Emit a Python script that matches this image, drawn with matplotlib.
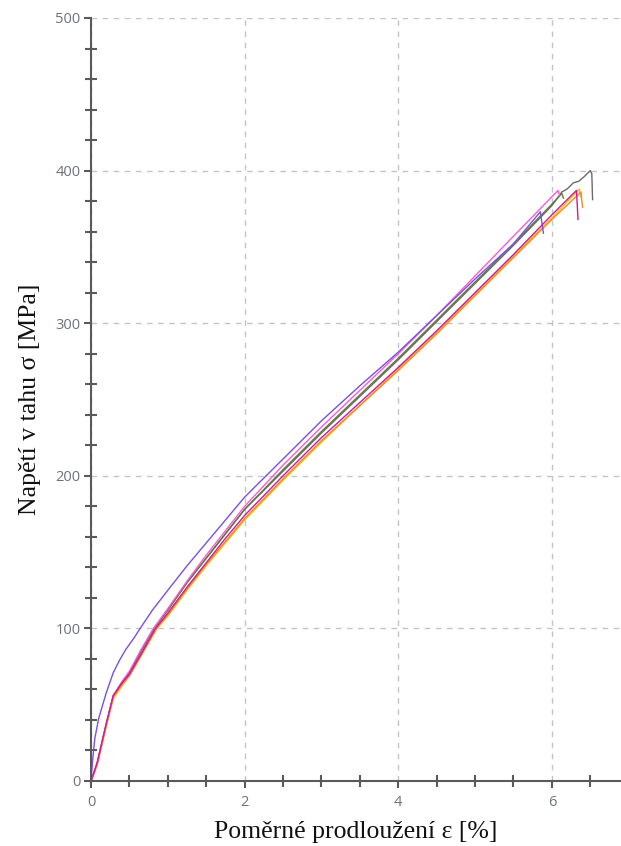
import matplotlib
matplotlib.use("Agg")
import matplotlib.pyplot as plt
from matplotlib.ticker import MultipleLocator

# Tensile test curves: strain [%] vs. stress [MPa], one list pair per specimen
purple_eps = [0, 0.02, 0.05, 0.1, 0.2, 0.29, 0.37, 0.45, 0.55, 0.64, 0.8, 1.0, 1.25, 1.5, 1.75, 2.0, 2.5, 3.0, 3.5, 4.0, 4.5, 5.0, 5.5, 5.85, 5.87, 5.89]
purple_sig = [0, 13, 28, 41, 58, 71, 79, 86, 93, 100, 112, 125, 141, 156, 171, 186, 211, 236, 259, 281, 305, 329, 352, 373, 366, 359]

pink_eps = [0, 0.08, 0.2, 0.29, 0.4, 0.5, 0.65, 0.8, 1.0, 1.25, 1.5, 1.75, 2.0, 2.5, 3.0, 3.5, 4.0, 4.5, 5.0, 5.5, 6.08, 6.1]
pink_sig = [0, 12, 38, 56, 65, 72, 86, 99, 113, 131, 148, 164, 180, 207, 232, 256, 280, 305, 331, 357, 387, 384]

green_eps = [0, 0.08, 0.2, 0.29, 0.4, 0.5, 0.65, 0.82, 1.0, 1.25, 1.5, 1.75, 2.0, 2.5, 3.0, 3.5, 4.0, 4.5, 5.0, 5.5, 6.0, 6.13, 6.15]
green_sig = [0, 11, 37, 56, 64, 71, 85, 100, 112, 130, 146, 162, 178, 204, 229, 253, 277, 302, 327, 352, 378, 385, 382]

gray_eps = [0, 0.08, 0.2, 0.29, 0.4, 0.5, 0.65, 0.82, 1.0, 1.25, 1.5, 1.75, 2.0, 2.5, 3.0, 3.5, 4.0, 4.5, 5.0, 5.5, 6.0, 6.13, 6.2, 6.28, 6.35, 6.42, 6.5, 6.52, 6.53]
gray_sig = [0, 11, 37, 55, 64, 71, 85, 100, 112, 130, 146, 162, 178, 203, 228, 252, 276, 301, 326, 351, 377, 386, 388, 392, 393, 396, 400, 398, 381]

magenta_eps = [0, 0.08, 0.2, 0.29, 0.4, 0.5, 0.65, 0.84, 1.0, 1.25, 1.5, 1.75, 2.0, 2.5, 3.0, 3.5, 4.0, 4.5, 5.0, 5.5, 6.0, 6.32, 6.33, 6.34]
magenta_sig = [0, 12, 38, 56, 64, 70, 83, 100, 110, 127, 143, 159, 174, 200, 225, 248, 271, 295, 320, 345, 371, 387, 378, 368]

orange_eps = [0, 0.08, 0.2, 0.29, 0.4, 0.5, 0.65, 0.85, 1.0, 1.25, 1.5, 1.75, 2.0, 2.5, 3.0, 3.5, 4.0, 4.5, 5.0, 5.5, 6.0, 6.38, 6.39, 6.40]
orange_sig = [0, 11, 37, 55, 63, 69, 82, 100, 109, 126, 142, 157, 172, 198, 223, 246, 269, 293, 318, 343, 368, 386, 380, 376]

yellow_eps = [0, 0.08, 0.2, 0.29, 0.4, 0.5, 0.65, 0.86, 1.0, 1.25, 1.5, 1.75, 2.0, 2.5, 3.0, 3.5, 4.0, 4.5, 5.0, 5.5, 6.0, 6.36, 6.37]
yellow_sig = [0, 11, 36, 54, 62, 69, 82, 100, 108, 125, 141, 156, 171, 197, 222, 246, 270, 294, 319, 344, 369, 388, 383]

series = [
    (gray_eps, gray_sig, "#6b6b6b"),
    (green_eps, green_sig, "#5b7b3a"),
    (yellow_eps, yellow_sig, "#f2c200"),
    (orange_eps, orange_sig, "#f0882a"),
    (pink_eps, pink_sig, "#ff5ad2"),
    (purple_eps, purple_sig, "#7b4fe0"),
    (magenta_eps, magenta_sig, "#d0189a"),
]

fig = plt.figure(figsize=(6.21, 8.46), dpi=100)
ax = fig.add_axes([91 / 621, 1 - 781 / 846, 1 - 91 / 621, (781 - 18) / 846])

for eps, sig, col in series:
    ax.plot(eps, sig, color=col, lw=1.0)

ax.set_xlim(0, 6.9)
ax.set_ylim(0, 500)
ax.xaxis.set_major_locator(MultipleLocator(2))
ax.xaxis.set_minor_locator(MultipleLocator(0.5))
ax.yaxis.set_major_locator(MultipleLocator(100))
ax.yaxis.set_minor_locator(MultipleLocator(20))

ax.grid(True, which="major", color="#c4c4c4", linestyle=(0, (4, 4)), linewidth=1.0)
ax.set_axisbelow(True)

for side in ("top", "right"):
    ax.spines[side].set_visible(False)
for side in ("left", "bottom"):
    ax.spines[side].set_color("#5a5a5a")
    ax.spines[side].set_linewidth(1.5)

ax.tick_params(which="major", direction="out", length=5, width=1.5, color="#5a5a5a",
               labelcolor="#6e7278", labelsize=10.5)
ax.tick_params(axis="y", which="major", pad=2.5)
ax.tick_params(axis="x", which="major", pad=5)
ax.tick_params(which="minor", direction="inout", length=8, width=1.5, color="#5a5a5a")
for lab in ax.get_xticklabels() + ax.get_yticklabels():
    lab.set_fontfamily("Open Sans")

ax.set_xlabel("Poměrné prodloužení ε [%]", family="Liberation Serif", fontsize=18.5,
              color="#111111", labelpad=8)
ax.set_ylabel("Napětí v tahu σ [MPa]", family="Liberation Serif", fontsize=18.5,
              color="#111111", labelpad=10)

fig.savefig("out.png", dpi=100)
